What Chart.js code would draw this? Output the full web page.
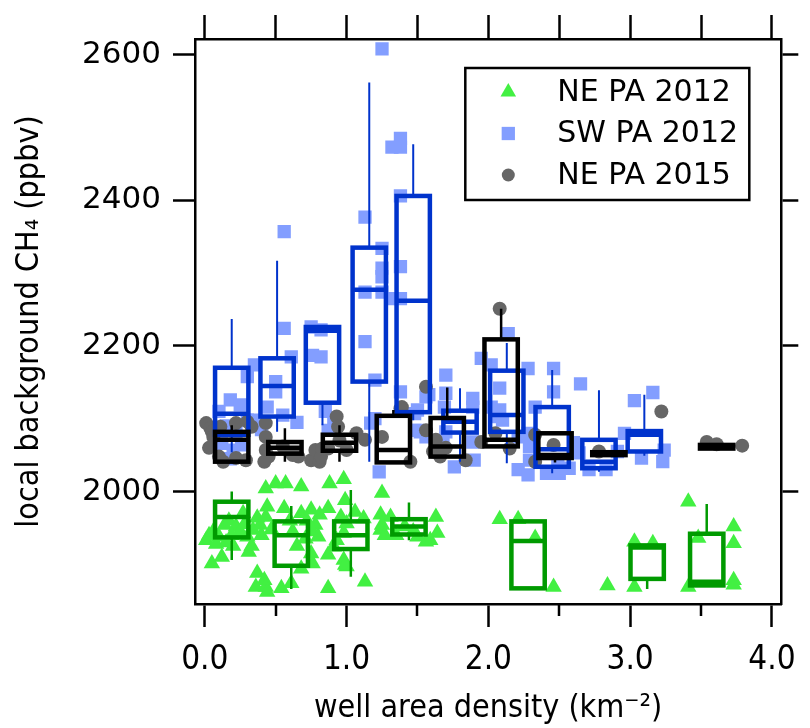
<!DOCTYPE html>
<html>
<head>
<meta charset="utf-8">
<script src="https://cdn.jsdelivr.net/npm/chart.js@4.4.0/dist/chart.umd.min.js"></script>
<style>
  body { margin: 0; background: #fff; }
  canvas { display: block; }
</style>
</head>
<body>
<canvas id="myChart" width="810" height="728"></canvas>
<script>
// axis ranges (well area density, km^-2 / CH4, ppbv)
const X_MIN = -0.069, X_MAX = 4.066;
const Y_MIN = 1845.5, Y_MAX = 2621.6;
const xMajorTicks = [0, 1, 2, 3, 4];
const yMajorTicks = [2000, 2200, 2400, 2600];

const seriesLabels = ["NE PA 2012", "SW PA 2012", "NE PA 2015"];

// NE PA 2012 samples
const ne2012X = [0.01, 0.03, 0.06, 0.05, 0.12, 0.14, 0.10, 0.17, 0.22, 0.25, 0.27, 0.30, 0.31, 0.34, 0.37, 0.39,
  0.43, 0.44, 0.43, 0.50, 0.57, 0.56, 0.68, 0.68, 0.75, 0.81, 0.87, 0.78, 0.76, 0.80, 0.75, 0.76, 0.68, 0.87,
  0.37, 0.42, 0.43, 0.36, 0.54, 0.61, 0.87, 0.44, 0.88, 0.98, 0.91, 0.93, 0.98, 1.00, 1.00, 0.98, 0.99, 0.96,
  1.06, 1.12, 1.25, 1.24, 1.31, 1.25, 1.24, 1.63, 1.64, 1.59, 1.56, 0.99, 1.13, 2.08, 2.21, 2.33, 2.46, 2.84,
  3.03, 3.16, 3.03, 3.41, 3.48, 3.41, 3.73, 3.73, 3.73, 3.73, 0.08, 0.19, 0.20, 0.28, 0.15, 0.33, 0.40, 0.47,
  0.60, 0.62, 0.65, 0.71, 0.72, 1.41, 1.47, 1.50, 1.35, 1.27];
const ne2012Y = [1933, 1940, 1945, 1901, 1910, 1954, 1938, 1960, 1952, 1945, 1970, 1938, 1917, 1947, 1964, 1954,
  1965, 1979, 2004, 2011, 2011, 1977, 2007, 1970, 1975, 1968, 1977, 1954, 1945, 1938, 1915, 1901, 1894, 1913,
  1888, 1878, 1869, 1869, 1867, 1874, 1867, 1862, 2011, 2017, 1924, 1933, 1906, 1897, 1956, 1943, 1988, 1965,
  1972, 1963, 1998, 1968, 1965, 1954, 1947, 1965, 1943, 1933, 1931, 1899, 1876, 1962, 1962, 1936, 1869, 1871,
  1931, 1929, 1869, 1986, 1936, 1869, 1952, 1929, 1878, 1872, 1928, 1940, 1925, 1955, 1930, 1925, 1940, 1948,
  1960, 1945, 1925, 1935, 1960, 1952, 1945, 1938, 1940, 1940];

// SW PA 2012 samples
const sw2012X = [1.25, 1.38, 1.32, 1.38, 1.38, 1.13, 0.56, 1.25, 1.25, 1.38, 1.25, 1.13, 1.25, 1.32, 1.38, 0.56,
  0.75, 0.82, 0.76, 0.82, 1.13, 0.61, 0.35, 0.30, 0.50, 0.50, 0.44, 0.18, 0.25, 1.20, 1.38, 1.70, 1.95, 1.89,
  1.70, 1.58, 2.02, 2.14, 2.28, 2.46, 2.46, 2.65, 3.03, 3.16, 2.08, 2.08, 2.33, 1.50, 1.56, 1.50, 1.56, 1.89,
  0.12, 0.30, 0.36, 0.26, 0.20, 0.87, 0.91, 1.23, 1.20, 1.17, 1.48, 1.52, 1.48, 1.69, 1.89, 1.76, 1.90, 1.68,
  1.70, 2.02, 2.07, 2.10, 2.21, 2.28, 2.29, 2.21, 2.28, 2.29, 2.49, 2.50, 2.41, 2.57, 2.71, 2.83, 2.96, 2.91,
  3.08, 3.24, 3.23, 2.60, 2.64, 0.10, 0.15, 0.22, 0.40, 0.55, 0.65, 0.85, 0.18];
const sw2012Y = [2608, 2485, 2473, 2473, 2406, 2377, 2357, 2334, 2307, 2309, 2295, 2274, 2274, 2265, 2265, 2224,
  2226, 2222, 2187, 2185, 2206, 2185, 2174, 2158, 2151, 2137, 2116, 2126, 2119, 2153, 2137, 2160, 2183, 2128,
  2135, 2133, 2174, 2217, 2169, 2169, 2137, 2148, 2125, 2136, 2142, 2112, 2116, 2112, 2130, 2084, 2075, 2068,
  2066, 2098, 2098, 2064, 2057, 2084, 2094, 2027, 2100, 2094, 2084, 2082, 2107, 2116, 2116, 2034, 2043, 2066,
  2082, 2116, 2103, 2098, 2075, 2080, 2062, 2030, 2023, 2043, 2043, 2025, 2025, 2032, 2030, 2030, 2080, 2055,
  2046, 2057, 2041, 2067, 2053, 2110, 2090, 2080, 2085, 2105, 2095, 2110, 2045];

// NE PA 2015 samples
const ne2015X = [0.01, 0.04, 0.05, 0.06, 0.11, 0.22, 0.30, 0.33, 0.10, 0.13, 0.22, 0.29, 0.43, 0.43, 0.43, 0.45,
  0.42, 0.66, 0.75, 0.81, 0.78, 0.82, 0.93, 0.87, 0.83, 0.94, 1.07, 1.13, 1.00, 1.25, 1.45, 1.39, 1.56, 1.63,
  1.61, 1.66, 1.84, 1.95, 1.56, 1.38, 2.08, 2.15, 2.33, 2.33, 2.46, 2.78, 3.22, 3.54, 3.61, 3.79, 0.03, 0.55,
  0.62, 0.95, 1.70, 2.05];
const ne2015Y = [2094, 2087, 2082, 2075, 2089, 2094, 2096, 2089, 2048, 2041, 2046, 2043, 2094, 2075, 2057, 2048,
  2041, 2048, 2043, 2041, 2057, 2048, 2103, 2059, 2059, 2089, 2080, 2071, 2057, 2075, 2041, 2116, 2084, 2071,
  2055, 2048, 2043, 2068, 2144, 2114, 2251, 2059, 2078, 2041, 2064, 2055, 2110, 2068, 2065, 2063, 2060, 2062,
  2050, 2070, 2060, 2080];

// binned box statistics: whisker low, 25th, median, 75th, whisker high
const ne2012BoxX = [0.19, 0.61, 1.03, 1.44, 2.28, 3.12, 3.54];
const ne2012Lo = [1906, 1866, 1883, 1933, 1867, 1866, 1869];
const ne2012Q1 = [1937, 1898, 1921, 1941, 1867, 1880, 1871];
const ne2012Med = [1965, 1940, 1940, 1952, 1932, 1923, 1876];
const ne2012Q3 = [1986, 1959, 1959, 1962, 1959, 1926, 1942];
const ne2012Hi = [2000, 1980, 2002, 1985, 1959, 1926, 1983];

const sw2012BoxX = [0.19, 0.51, 0.83, 1.16, 1.47, 1.80, 2.13, 2.45, 2.78, 3.10];
const sw2012Lo = [2054, 2082, 2091, 2041, 2098, 2041, 2039, 2025, 2027, 2049];
const sw2012Q1 = [2078, 2103, 2122, 2151, 2109, 2081, 2082, 2034, 2032, 2055];
const sw2012Med = [2107, 2145, 2221, 2277, 2262, 2096, 2105, 2058, 2041, 2078];
const sw2012Q3 = [2170, 2183, 2226, 2335, 2406, 2111, 2166, 2116, 2071, 2083];
const sw2012Hi = [2237, 2317, 2226, 2562, 2477, 2142, 2204, 2167, 2139, 2133];

const ne2015BoxX = [0.19, 0.565, 0.95, 1.33, 1.71, 2.09, 2.47, 2.85, 3.61];
const ne2015Lo = [2041, 2041, 2041, 2040, 2048, 2062, 2040, 2050, 2059];
const ne2015Q1 = [2041, 2052, 2056, 2040, 2048, 2062, 2046, 2050, 2059];
const ne2015Med = [2071, 2060, 2067, 2057, 2062, 2071, 2050, 2052, 2062];
const ne2015Q3 = [2082, 2068, 2078, 2104, 2101, 2209, 2080, 2054, 2064];
const ne2015Hi = [2091, 2087, 2091, 2112, 2143, 2251, 2080, 2054, 2064];

const BOX_WIDTH = 0.235;

const toPoints = (xs, ys) => xs.map((v, i) => ({ x: v, y: ys[i] }));

const boxSeries = [
  { xs: ne2012BoxX, lo: ne2012Lo, q1: ne2012Q1, med: ne2012Med, q3: ne2012Q3, hi: ne2012Hi, color: "#009a00", whisker: 2.5 },
  { xs: sw2012BoxX, lo: sw2012Lo, q1: sw2012Q1, med: sw2012Med, q3: sw2012Q3, hi: sw2012Hi, color: "#0033cc", whisker: 2 },
  { xs: ne2015BoxX, lo: ne2015Lo, q1: ne2015Q1, med: ne2015Med, q3: ne2015Q3, hi: ne2015Hi, color: "#000000", whisker: 2.5 },
];

const boxPlots = {
  id: "boxPlots",
  afterDatasetsDraw(chart) {
    const { ctx, chartArea, scales: { x, y } } = chart;
    const half = (x.getPixelForValue(BOX_WIDTH) - x.getPixelForValue(0)) / 2;
    ctx.save();
    ctx.beginPath();
    ctx.rect(chartArea.left, chartArea.top, chartArea.width, chartArea.height);
    ctx.clip();
    boxSeries.forEach((s) => {
      ctx.strokeStyle = s.color;
      s.xs.forEach((xv, i) => {
        const cx = x.getPixelForValue(xv);
        const pLo = y.getPixelForValue(s.lo[i]);
        const pQ1 = y.getPixelForValue(s.q1[i]);
        const pMed = y.getPixelForValue(s.med[i]);
        const pQ3 = y.getPixelForValue(s.q3[i]);
        const pHi = y.getPixelForValue(s.hi[i]);
        ctx.lineWidth = s.whisker;
        ctx.beginPath();
        ctx.moveTo(cx, pHi);
        ctx.lineTo(cx, pQ3);
        ctx.moveTo(cx, pQ1);
        ctx.lineTo(cx, pLo);
        ctx.stroke();
        ctx.lineWidth = 4.5;
        ctx.strokeRect(cx - half, pQ3, 2 * half, pQ1 - pQ3);
        ctx.beginPath();
        ctx.moveTo(cx - half, pMed);
        ctx.lineTo(cx + half, pMed);
        ctx.stroke();
      });
    });
    ctx.restore();
  },
};

// short ticks at the half units under the bottom axis
const minorTicks = {
  id: "minorTicks",
  afterDraw(chart) {
    const { ctx, chartArea, scales: { x } } = chart;
    ctx.save();
    ctx.strokeStyle = "#000";
    ctx.lineWidth = 2.5;
    ctx.beginPath();
    [0.5, 1.5, 2.5, 3.5].forEach((v) => {
      const px = Math.round(x.getPixelForValue(v));
      ctx.moveTo(px, chartArea.bottom);
      ctx.lineTo(px, chartArea.bottom + 12);
    });
    ctx.stroke();
    ctx.restore();
  },
};

// boxed legend in the upper right of the plot
const boxLegend = {
  id: "boxLegend",
  afterDraw(chart) {
    const { ctx, chartArea } = chart;
    const left = chartArea.right - 316, top = chartArea.top + 29;
    const w = 284, h = 132;
    ctx.save();
    ctx.fillStyle = "#fff";
    ctx.fillRect(left, top, w, h);
    ctx.strokeStyle = "#000";
    ctx.lineWidth = 2.5;
    ctx.strokeRect(left, top, w, h);
    ctx.font = "30px 'DejaVu Sans'";
    ctx.textBaseline = "middle";
    chart.data.datasets.forEach((ds, i) => {
      const cy = top + 24 + i * 41.5;
      ctx.fillStyle = ds.backgroundColor;
      Chart.helpers.drawPoint(ctx, { pointStyle: ds.pointStyle, radius: ds.legendRadius, rotation: 0, borderWidth: 0 }, left + 43, cy);
      ctx.fillStyle = "#000";
      ctx.fillText(ds.label, left + 92, cy + 1);
    });
    ctx.restore();
  },
};

const tickFont = { family: "'DejaVu Sans', sans-serif", size: 31 };
const narrowFont = "'DejaVu Sans Condensed', 'Liberation Sans Narrow', sans-serif";

const ctx = document.getElementById("myChart");
new Chart(ctx, {
  type: "scatter",
  data: {
    datasets: [
      {
        label: seriesLabels[0],
        data: toPoints(ne2012X, ne2012Y),
        pointStyle: "triangle",
        radius: 9.5,
        legendRadius: 9,
        backgroundColor: "#42f042",
        borderWidth: 0,
        order: 3,
      },
      {
        label: seriesLabels[1],
        data: toPoints(sw2012X, sw2012Y),
        pointStyle: "rect",
        radius: 9.4,
        legendRadius: 9.4,
        backgroundColor: "#839eff",
        borderWidth: 0,
        order: 2,
      },
      {
        label: seriesLabels[2],
        data: toPoints(ne2015X, ne2015Y),
        pointStyle: "circle",
        radius: 7,
        legendRadius: 6.5,
        backgroundColor: "#666666",
        borderWidth: 0,
        order: 1,
      },
    ],
  },
  options: {
    responsive: false,
    animation: false,
    layout: { padding: 0 },
    plugins: {
      legend: { display: false },
      tooltip: { enabled: false },
    },
    scales: {
      x: {
        type: "linear",
        position: "bottom",
        min: X_MIN,
        max: X_MAX,
        afterBuildTicks: (s) => { s.ticks = xMajorTicks.map((v) => ({ value: v })); },
        afterFit: (s) => { s.height = 124; },
        border: { display: true, color: "#000", width: 2.5 },
        grid: { drawOnChartArea: false, drawTicks: true, tickLength: 23, tickWidth: 2.5, tickColor: "#000" },
        ticks: {
          color: "#000",
          padding: 14,
          maxRotation: 0,
          autoSkip: false,
          font: { family: narrowFont, size: 33 },
          callback: (v) => v.toFixed(1),
        },
        title: {
          display: true,
          text: "well area density (km⁻²)",
          color: "#000",
          font: { family: narrowFont, size: 32 },
          padding: { top: 0, bottom: 0 },
        },
      },
      xTop: {
        type: "linear",
        position: "top",
        min: X_MIN,
        max: X_MAX,
        afterFit: (s) => { s.height = 39; },
        border: { display: true, color: "#000", width: 2.5 },
        grid: { drawOnChartArea: false, drawTicks: true, tickLength: 24, tickWidth: 2.5, tickColor: "#000" },
        ticks: { display: false, stepSize: 0.5, includeBounds: false },
      },
      y: {
        type: "linear",
        position: "left",
        min: Y_MIN,
        max: Y_MAX,
        afterBuildTicks: (s) => { s.ticks = yMajorTicks.map((v) => ({ value: v })); },
        afterFit: (s) => { s.width = 195; },
        border: { display: true, color: "#000", width: 2.5 },
        grid: { drawOnChartArea: false, drawTicks: true, tickLength: 22, tickWidth: 2.5, tickColor: "#000" },
        ticks: { color: "#000", padding: 12, font: tickFont, callback: (v) => String(v) },
        title: {
          display: true,
          text: "local background CH₄ (ppbv)",
          color: "#000",
          font: { family: narrowFont, size: 32 },
          padding: { top: 10, bottom: 0 },
        },
      },
      yRight: {
        type: "linear",
        position: "right",
        min: Y_MIN,
        max: Y_MAX,
        afterBuildTicks: (s) => { s.ticks = yMajorTicks.map((v) => ({ value: v })); },
        afterFit: (s) => { s.width = 17; },
        border: { display: true, color: "#000", width: 2.5 },
        grid: { drawOnChartArea: false, drawTicks: true, tickLength: 17, tickWidth: 2.5, tickColor: "#000" },
        ticks: { display: false },
      },
    },
  },
  plugins: [boxPlots, minorTicks, boxLegend],
});
</script>
</body>
</html>
